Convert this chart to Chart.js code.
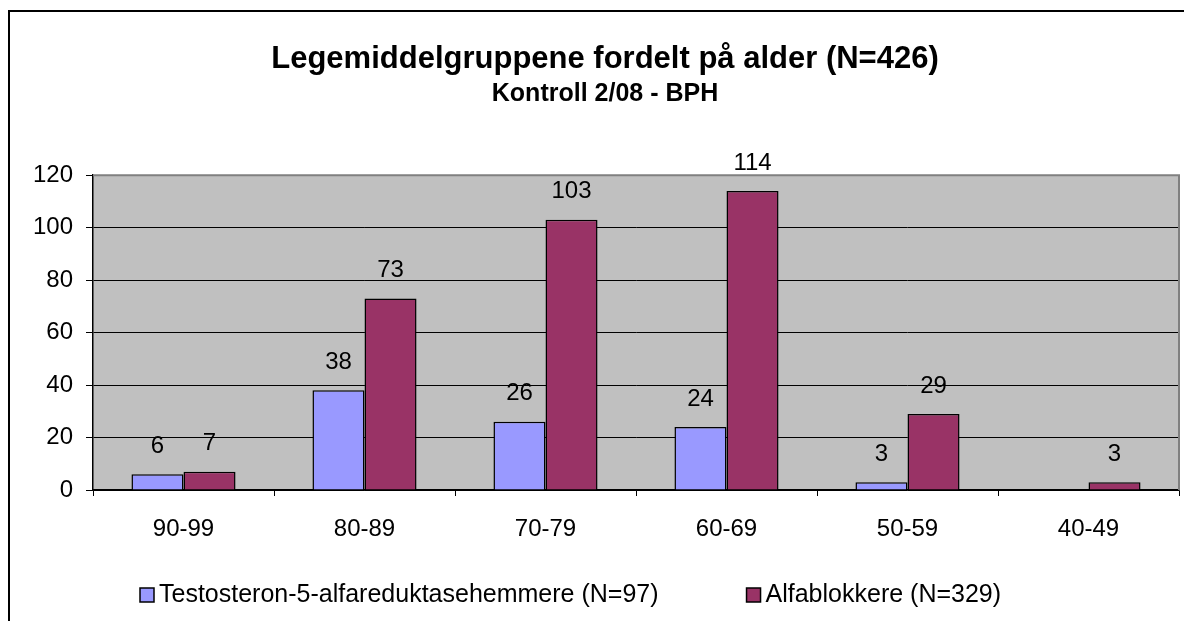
<!DOCTYPE html>
<html>
<head>
<meta charset="utf-8">
<script src="https://cdn.jsdelivr.net/npm/chart.js@4"></script>
<style>
  body { margin: 0; background: #fff; }
</style>
</head>
<body>
<canvas id="chart" width="1184" height="621"></canvas>
<script>
const ageGroups = ['90-99', '80-89', '70-79', '60-69', '50-59', '40-49'];
const testosteronValues = [6, 38, 26, 24, 3, null];
const alfablokkereValues = [7, 73, 103, 114, 29, 3];
const seriesNames = ['Testosteron-5-alfareduktasehemmere (N=97)', 'Alfablokkere (N=329)'];
const titleText = 'Legemiddelgruppene fordelt på alder (N=426)';
const subtitleText = 'Kontroll 2/08 - BPH';

const FONT = 'Liberation Sans, Arial, sans-serif';

// gray plot background, frame and outer border
const frame = {
    id: 'frame',
    beforeDraw(chart) {
        const c = chart.ctx;
        const a = chart.chartArea;
        c.save();
        c.fillStyle = '#fff';
        c.fillRect(0, 0, chart.width, chart.height);
        c.strokeStyle = '#000';
        c.lineWidth = 2;
        c.beginPath();
        c.moveTo(9, chart.height + 2);
        c.lineTo(9, 11);
        c.lineTo(chart.width + 2, 11);
        c.stroke();
        c.fillStyle = '#c0c0c0';
        c.fillRect(a.left, a.top, a.right - a.left, a.bottom - a.top);
        c.restore();
    },
    afterDraw(chart) {
        const c = chart.ctx;
        const a = chart.chartArea;
        c.save();
        c.strokeStyle = '#808080';
        c.lineWidth = 2;
        c.beginPath();
        c.moveTo(a.left, a.top);
        c.lineTo(a.right, a.top);
        c.lineTo(a.right, a.bottom);
        c.stroke();
        c.restore();
    }
};

// value labels above the bars
const valueLabels = {
    id: 'valueLabels',
    afterDatasetsDraw(chart) {
        const c = chart.ctx;
        c.save();
        c.font = '24px ' + FONT;
        c.fillStyle = '#000';
        c.textAlign = 'center';
        c.textBaseline = 'middle';
        chart.data.datasets.forEach((ds, i) => {
            const meta = chart.getDatasetMeta(i);
            meta.data.forEach((bar, j) => {
                const v = ds.data[j];
                if (v === null || v === undefined) return;
                c.fillText(String(v), bar.x, bar.y - 28);
            });
        });
        c.restore();
    }
};

// excel style legend below the axis
const bottomLegend = {
    id: 'bottomLegend',
    afterDraw(chart) {
        const c = chart.ctx;
        c.save();
        c.font = '25px ' + FONT;
        c.textBaseline = 'middle';
        c.textAlign = 'left';
        let x = 140;
        const y = 595;
        chart.data.datasets.forEach(ds => {
            c.fillStyle = ds.backgroundColor;
            c.fillRect(x, y - 7, 14, 14);
            c.strokeStyle = '#000';
            c.lineWidth = 1.5;
            c.strokeRect(x, y - 7, 14, 14);
            c.fillStyle = '#000';
            c.fillText(ds.label, x + 19, y);
            x += 19 + c.measureText(ds.label).width + 88;
        });
        c.restore();
    }
};

const canvas = document.getElementById('chart');
const ctx = canvas.getContext('2d');

new Chart(ctx, {
    type: 'bar',
    data: {
        labels: ageGroups,
        datasets: [{
            label: seriesNames[0],
            data: testosteronValues,
            backgroundColor: '#9999ff',
            borderColor: '#000',
            borderWidth: 1.5
        }, {
            label: seriesNames[1],
            data: alfablokkereValues,
            backgroundColor: '#993366',
            borderColor: '#000',
            borderWidth: 1.5
        }]
    },
    options: {
        responsive: false,
        animation: false,
        categoryPercentage: 0.575,
        barPercentage: 1,
        layout: { padding: { left: 31, right: 5, top: 0, bottom: 71 } },
        scales: {
            x: {
                grid: { display: true, offset: true, drawOnChartArea: false, color: '#000', tickLength: 6 },
                border: { color: '#000', width: 1.5 },
                ticks: { color: '#000', font: { family: FONT, size: 24 }, padding: 19, maxRotation: 0 },
                afterFit(s) { s.height = 60; }
            },
            y: {
                min: 0,
                max: 120,
                ticks: { stepSize: 20, color: '#000', font: { family: FONT, size: 24 }, padding: 13 },
                grid: { color: '#000', tickLength: 7, lineWidth: 1 },
                border: { color: '#000', width: 1.5 },
                afterFit(s) { s.width = 62; }
            }
        },
        plugins: {
            title: {
                display: true,
                text: titleText,
                color: '#000',
                font: { family: FONT, size: 31, weight: 'bold' },
                padding: { top: 41, bottom: 1 }
            },
            subtitle: {
                display: true,
                text: subtitleText,
                color: '#000',
                font: { family: FONT, size: 25, weight: 'bold' },
                padding: { top: 0, bottom: 66 }
            },
            legend: { display: false },
            tooltip: { enabled: false }
        }
    },
    plugins: [frame, valueLabels, bottomLegend]
});
</script>
</body>
</html>
